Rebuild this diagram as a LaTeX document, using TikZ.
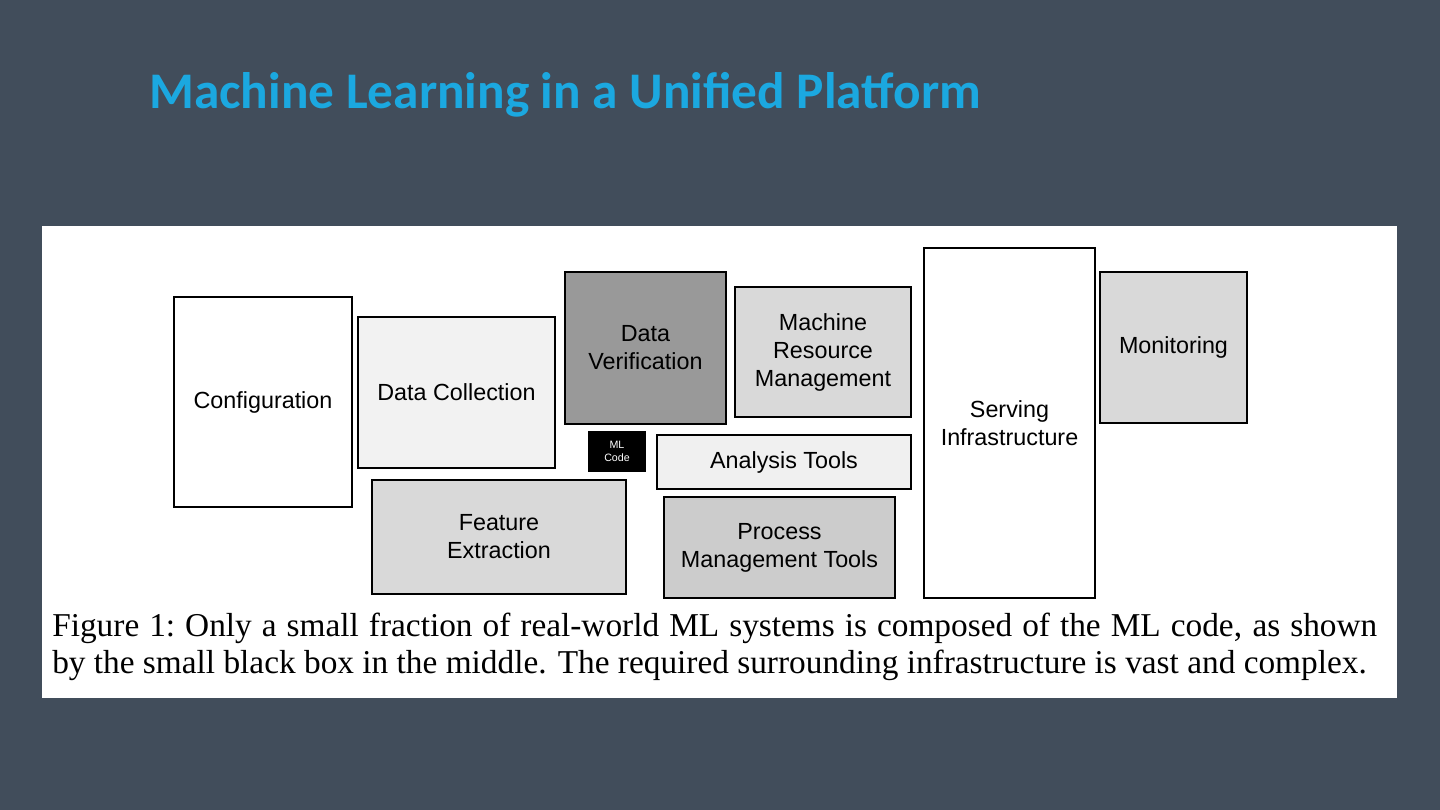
\documentclass[tikz,border=0pt]{standalone}
\usepackage{fontspec}
\setmainfont{Liberation Serif}
\setsansfont{Liberation Sans}
\newfontfamily\titlefont{Carlito}
\definecolor{slate}{HTML}{414D5B}
\definecolor{skyblue}{HTML}{1BA8E0}
\tikzset{
  blk/.style={draw, line width=1.5pt, inner sep=0pt, align=center,
    font=\sffamily\fontsize{17.5}{21}\selectfont},
  sz/.style 2 args={minimum width=#1*0.75pt, minimum height=#2*0.75pt}
}
\begin{document}
\begin{tikzpicture}[x=0.75pt,y=-0.75pt]
\fill[slate](0,0)rectangle(1440,810);
\useasboundingbox(0,0)rectangle(1440,810);
\node[anchor=base west,inner sep=0pt,text=skyblue,font=\titlefont\bfseries\fontsize{38.5}{42}\selectfont](title)at(149,108){Machine Learning in a Unified Platform};
\fill[white](42,226)rectangle(1397,698);
% boxes of the figure
\node[blk,sz={178}{210},fill=white](conf)at(263,402){Configuration};
\node[blk,sz={197}{151},fill=black!5](coll)at(456.5,392.5){Data Collection};
\node[blk,sz={161}{152},fill=black!40](verif)at(645.5,348){Data\\Verification};
\node[blk,sz={176}{130},fill=black!15](mrm)at(823,352){Machine\\Resource\\Management};
\node[blk,sz={171}{350},fill=white](serv)at(1009.5,423){Serving\\Infrastructure};
\node[blk,sz={147}{151},fill=black!15](mon)at(1173.5,347.5){Monitoring};
\node[blk,sz={56}{39},fill=black,text=white,font=\sffamily\fontsize{8}{10}\selectfont](ml)at(617,451.5){ML\\Code};
\node[blk,sz={254}{54},fill=black!6](anal)at(784,462){Analysis Tools};
\node[blk,sz={254}{114},fill=black!15](feat)at(499,537){Feature\\Extraction};
\node[blk,sz={231}{101},fill=black!20](proc)at(779.5,547.5){Process\\Management Tools};
% caption
\node[anchor=base west,inner sep=0pt,text width=1325*0.75pt,align=justify,font=\fontsize{25}{27.75}\selectfont](cap)at(52,636){Figure 1:\ Only a small fraction of real-world ML systems is composed of the ML code, as shown\linebreak by the small black box in the middle. The required surrounding infrastructure is vast and complex.};
\end{tikzpicture}
\end{document}
